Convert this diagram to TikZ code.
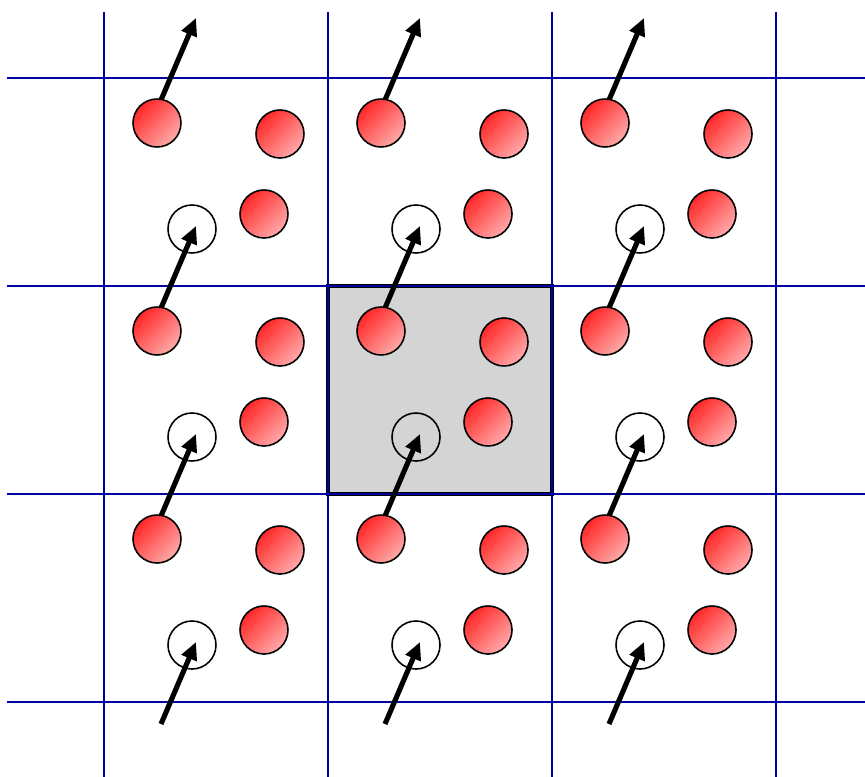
\documentclass[tikz,border=0pt]{standalone}
\usetikzlibrary{arrows.meta}
\definecolor{gridblue}{RGB}{0,0,160}
\definecolor{ballred}{RGB}{255,40,40}
\definecolor{ballpink}{RGB}{255,170,170}
\definecolor{cellgray}{RGB}{212,212,212}
\tikzset{
	gridline/.style={gridblue, line width=1.2pt},
	ball/.style={draw=black, line width=0.9pt, shading=axis, top color=ballred, bottom color=ballpink, shading angle=45},
	hole/.style={draw=black, line width=0.9pt},
	spin/.style={line width=2.9pt, -{Triangle[length=10pt, width=9pt]}},
}
\begin{document}
\begin{tikzpicture}[x=0.02cm, y=-0.02cm]
	\useasboundingbox (0,0) rectangle (865,777);
	% unit cell
	\fill[cellgray] (328,286) rectangle (552,494);
	\draw[line width=2.4pt] (328,286) rectangle (552,494);
	% lattice
	\foreach \x in {104,328,552,776} {\draw[gridline] (\x,12) -- (\x,777);}
	\foreach \y in {78,286,494,702} {\draw[gridline] (7,\y) -- (865,\y);}
	% vacancies
	\foreach \i in {0,1,2} {
		\foreach \j in {0,1,2} {
			\pgfmathsetmacro{\xo}{104+224*\i}
			\pgfmathsetmacro{\yo}{78+208*\j}
			\draw[hole] (\xo+88,\yo+151) circle (24);
		}
	}
	% moves
	\foreach \i in {0,1,2} {
		\foreach \j in {0,1,2,3} {
			\pgfmathsetmacro{\xo}{104+224*\i}
			\pgfmathsetmacro{\yo}{78+208*\j}
			\draw[spin] (\xo+57,\yo+22) -- (\xo+92,\yo-60);
		}
	}
	% atoms
	\foreach \i in {0,1,2} {
		\foreach \j in {0,1,2} {
			\pgfmathsetmacro{\xo}{104+224*\i}
			\pgfmathsetmacro{\yo}{78+208*\j}
			\shade[ball] (\xo+53,\yo+45) circle (24);
			\shade[ball] (\xo+176,\yo+56) circle (24);
			\shade[ball] (\xo+160,\yo+136) circle (24);
		}
	}
\end{tikzpicture}
\end{document}
